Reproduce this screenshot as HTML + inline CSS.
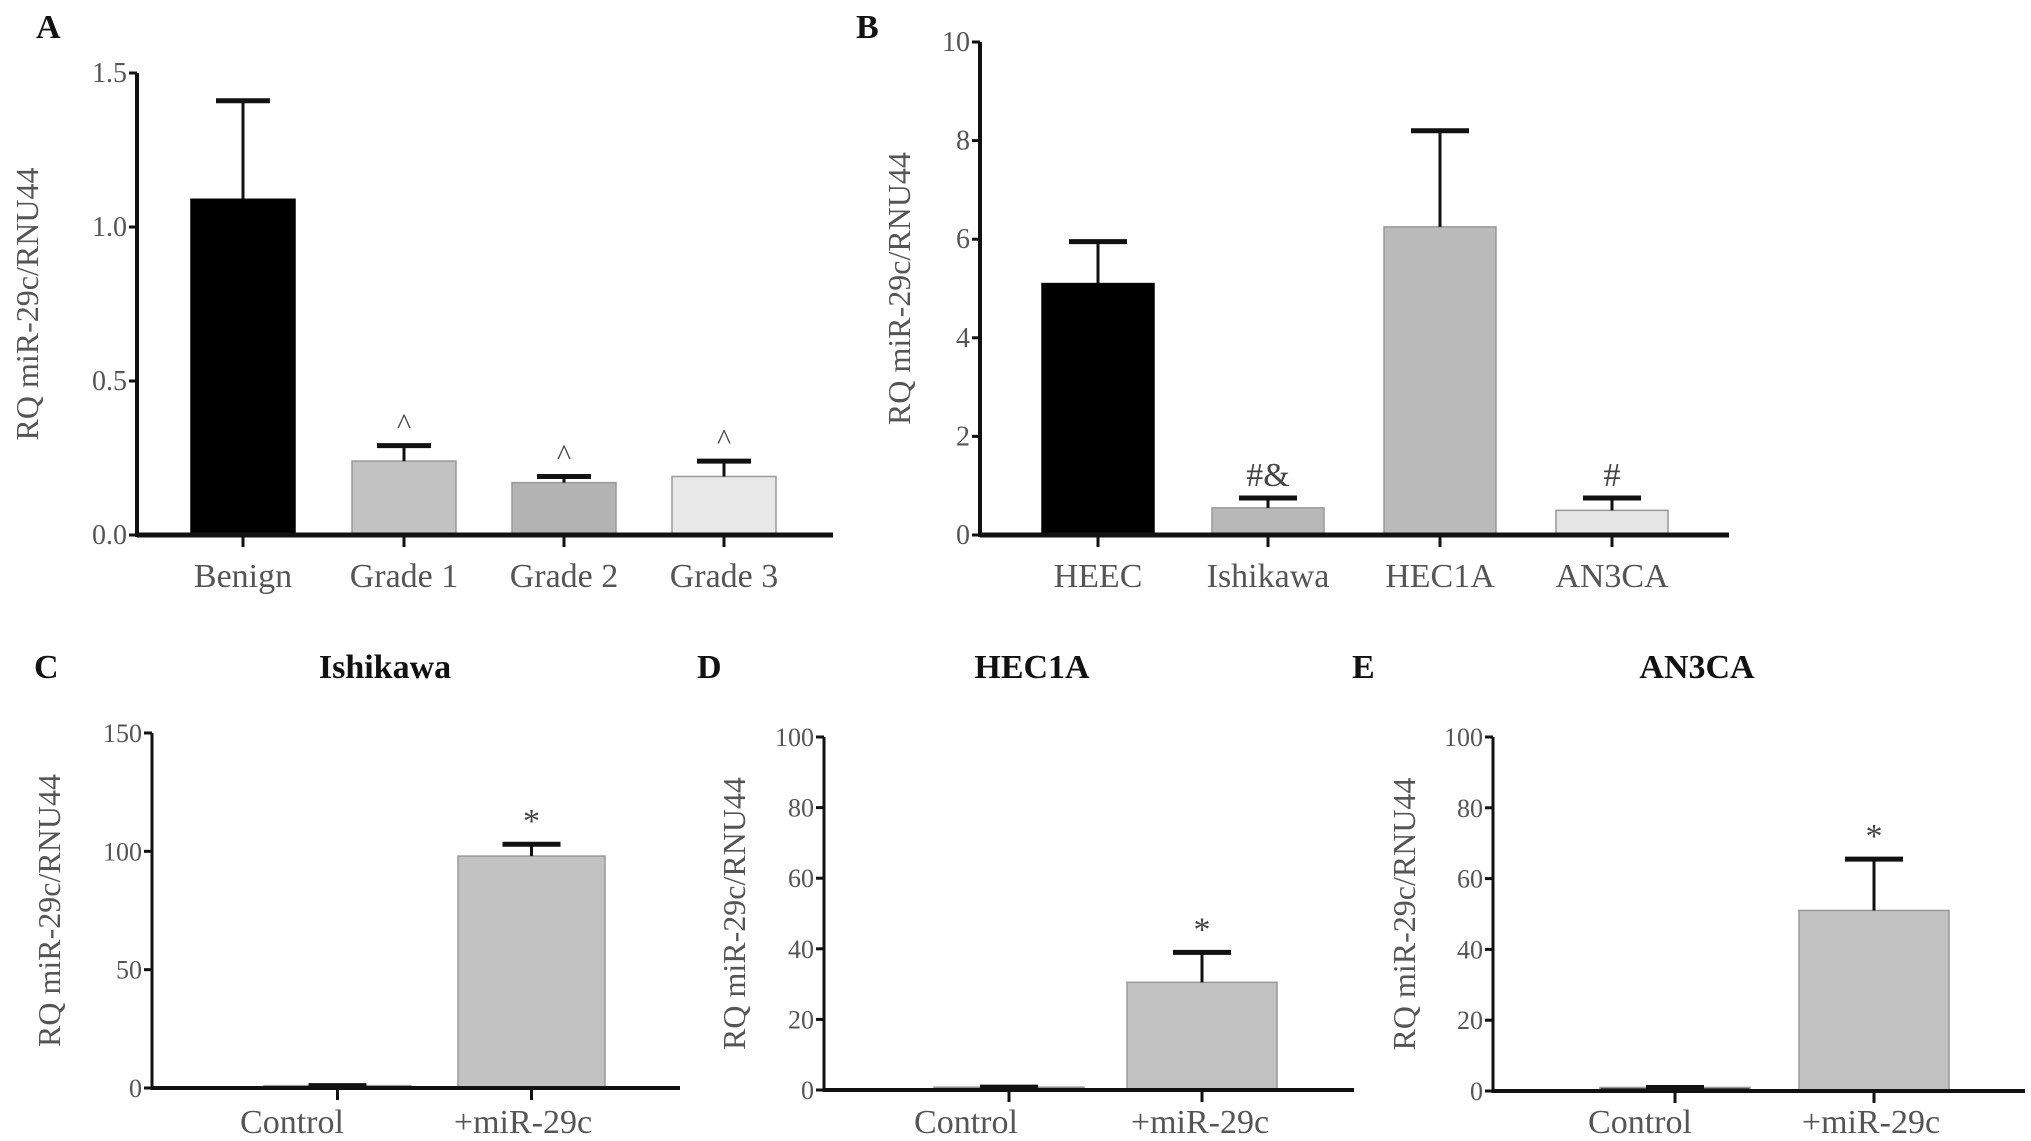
<!DOCTYPE html>
<html><head><meta charset="utf-8"><style>
html,body{margin:0;padding:0;background:#fff;}
svg{display:block;font-family:"Liberation Serif",serif;}
</style></head><body>
<svg id="fig" width="2031" height="1141" viewBox="0 0 2031 1141"></svg>
<script>
const aCats=["Benign","Grade 1","Grade 2","Grade 3"];
const aVals=[1.09,0.24,0.17,0.19];
const aErr=[1.41,0.29,0.19,0.24];
const aTicks=[0,0.5,1.0,1.5];
const aTickLabels=["0.0","0.5","1.0","1.5"];
const aMarks=["","^","^","^"];
const bCats=["HEEC","Ishikawa","HEC1A","AN3CA"];
const bVals=[5.1,0.55,6.25,0.5];
const bErr=[5.95,0.75,8.2,0.75];
const bTicks=[0,2,4,6,8,10];
const bMarks=["","#&","","#"];
const cdeCats=["Control","+miR-29c"];
const cVals=[1,98];const cErr=[1,103];const cTicks=[0,50,100,150];
const dVals=[0.8,30.5];const dErr=[0.8,39];const dTicks=[0,20,40,60,80,100];
const eVals=[1,51];const eErr=[1,65.5];const eTicks=[0,20,40,60,80,100];
const cdeMarks=["","*"];

const svg=document.getElementById('fig');
const NS="http://www.w3.org/2000/svg";
function mk(tag,attrs,parent){const e=document.createElementNS(NS,tag);for(const k in attrs)e.setAttribute(k,attrs[k]);(parent||svg).appendChild(e);return e;}
function txt(s,attrs,parent){const e=mk('text',attrs,parent);e.textContent=s;return e;}

function panel(o){
  const g=mk('g',{});
  
  
  const y=v=>o.y0-(v-o.min)/(o.max-o.min)*(o.y0-o.yTop);
  o.cats.forEach((c,i)=>{
    const x0=o.barX[i],w=o.barW;
    const cx=x0+w/2;
    const yv=y(o.vals[i]);
    const r=mk('rect',{x:x0,y:yv,width:w,height:o.y0-yv,fill:o.colors[i],stroke:o.colors[i]==='#000'?'#000':'#999','stroke-width':1.5},g);
    
    
    const ye=y(o.err[i]);
    if(o.err[i]>o.vals[i]){
      const l=mk('line',{x1:cx,x2:cx,y1:yv,y2:ye,stroke:'#111','stroke-width':3},g);
      
      
    }
    mk('line',{x1:cx-o.capW/2,x2:cx+o.capW/2,y1:ye,y2:ye,stroke:'#111','stroke-width':5},g);
    if(o.marks[i]){
      const m=txt(o.marks[i],{x:cx,y:ye-12,'text-anchor':'middle','font-size':o.markSize,fill:'#444'},g);
      
      
    }
    mk('line',{x1:cx,x2:cx,y1:o.y0,y2:o.y0+12,stroke:'#111','stroke-width':3},g);
    const t=txt(c,{x:o.labX?o.labX[i]:cx,y:o.labY,'text-anchor':'middle','font-size':o.labSize,fill:'#555'},g);
    
    
  });
  const ya=mk('line',{x1:o.ax,x2:o.ax,y1:o.yTop,y2:o.y0+2,stroke:'#111','stroke-width':o.axW},g);
  
  
  const xa=mk('line',{x1:o.ax,x2:o.axEnd,y1:o.y0,y2:o.y0,stroke:'#111','stroke-width':o.axW+1},g);
  
  
  o.ticks.forEach((t,i)=>{
    const yy=y(t);
    mk('line',{x1:o.ax-8,x2:o.ax,y1:yy,y2:yy,stroke:'#111','stroke-width':3},g);
    const tl=txt(o.tickLabels?o.tickLabels[i]:String(t),{x:o.ax-10,y:yy+9,'text-anchor':'end','font-size':o.tickSize,fill:'#555'},g);
    
    
  });
  const ytx=o.ytX, yty=(o.y0+o.yTop)/2;
  const yt=txt('RQ miR-29c/RNU44',{x:ytx,y:yty,'text-anchor':'middle','font-size':o.ytSize,fill:'#555',transform:`rotate(-90 ${ytx} ${yty})`},g);
  
  
  const pl=txt(o.letter,{x:o.letterX,y:o.letterY,'font-size':34,'font-weight':'bold',fill:'#111'},g);
  
  
  if(o.title){
    const tt=txt(o.title,{x:o.titleX,y:o.letterY,'text-anchor':'middle','font-size':34,'font-weight':'bold',fill:'#111'},g);
    
    
  }
}

panel({name:'panel-a',cats:aCats,vals:aVals,err:aErr,ticks:aTicks,tickLabels:aTickLabels,marks:aMarks,min:0,max:1.5,
  y0:535,yTop:73,ax:137,axEnd:833,axW:4,barX:[191,352,512,672],barW:104,capW:54,
  colors:['#000','#c2c2c2','#b3b3b3','#e8e8e8'],labY:587,labSize:34,tickSize:28,ytX:38,ytSize:32,markSize:30,
  letter:'A',letterX:36,letterY:38});
panel({name:'panel-b',cats:bCats,vals:bVals,err:bErr,ticks:bTicks,marks:bMarks,min:0,max:10,
  y0:535,yTop:42,ax:980,axEnd:1729,axW:4,barX:[1042,1212,1384,1556],barW:112,capW:58,
  colors:['#000','#b8b8b8','#bababa','#e6e6e6'],labY:587,labSize:34,tickSize:28,ytX:910,ytSize:32,markSize:34,
  letter:'B',letterX:856,letterY:38});
panel({name:'panel-c',cats:cdeCats,vals:cVals,err:cErr,ticks:cTicks,marks:cdeMarks,min:0,max:150,
  y0:1088,yTop:733,ax:152,axEnd:680,axW:3,barX:[264,458],barW:147,capW:58,labX:[292,523],
  colors:['#333','#c2c2c2'],labY:1133,labSize:34,tickSize:26,ytX:60,ytSize:32,markSize:34,
  letter:'C',letterX:34,letterY:678,title:'Ishikawa',titleX:385});
panel({name:'panel-d',cats:cdeCats,vals:dVals,err:dErr,ticks:dTicks,marks:cdeMarks,min:0,max:100,
  y0:1090,yTop:737,ax:824,axEnd:1354,axW:3,barX:[934,1127],barW:150,capW:58,labX:[966,1200],
  colors:['#333','#c2c2c2'],labY:1133,labSize:34,tickSize:26,ytX:745,ytSize:32,markSize:34,
  letter:'D',letterX:697,letterY:678,title:'HEC1A',titleX:1032});
panel({name:'panel-e',cats:cdeCats,vals:eVals,err:eErr,ticks:eTicks,marks:cdeMarks,min:0,max:100,
  y0:1091,yTop:737,ax:1493,axEnd:2025,axW:3,barX:[1600,1799],barW:150,capW:58,labX:[1640,1871],
  colors:['#333','#c2c2c2'],labY:1133,labSize:34,tickSize:26,ytX:1415,ytSize:32,markSize:34,
  letter:'E',letterX:1352,letterY:678,title:'AN3CA',titleX:1697});
</script>
</body></html>
